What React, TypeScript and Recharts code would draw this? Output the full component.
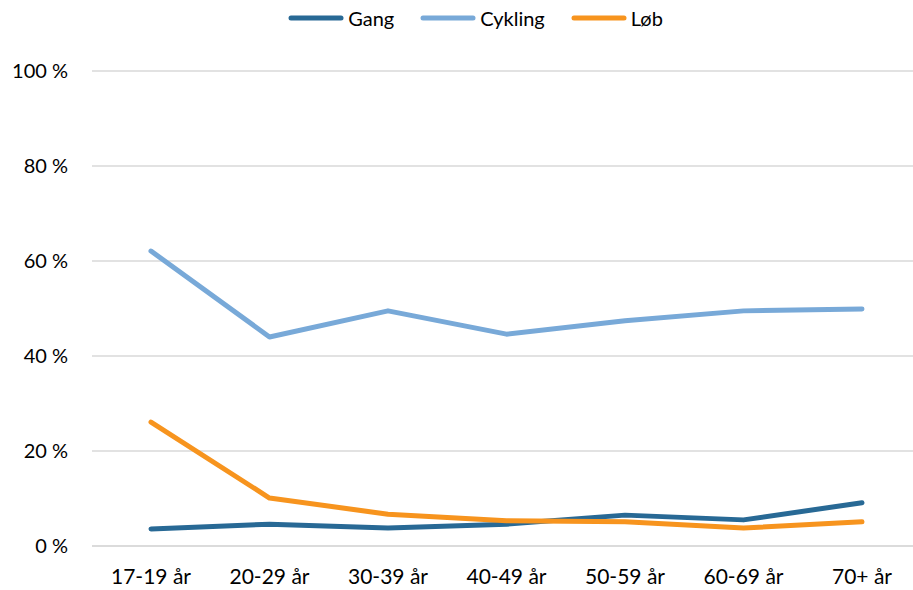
import React from 'react';
import { LineChart, Line, XAxis, YAxis, CartesianGrid, Legend } from 'recharts';

const categories = ['17-19 år', '20-29 år', '30-39 år', '40-49 år', '50-59 år', '60-69 år', '70+ år'];
const gang = [3.6, 4.6, 3.8, 4.6, 6.5, 5.5, 9.1];
const cykling = [62.1, 44.0, 49.5, 44.6, 47.4, 49.5, 49.9];
const lob = [26.1, 10.1, 6.7, 5.3, 5.1, 3.8, 5.1];
const yTicks = [0, 20, 40, 60, 80, 100];

const seriesInfo = [
  { key: 'Gang', color: '#286995' },
  { key: 'Cykling', color: '#78a9d8' },
  { key: 'Løb', color: '#f7941e' },
];

const data = categories.map((c, i) => ({ name: c, Gang: gang[i], Cykling: cykling[i], 'Løb': lob[i] }));

const FONT = 'Lato, "Open Sans", sans-serif';

const LegendContent = () => (
  <div style={{ height: 36, display: 'flex', justifyContent: 'center', alignItems: 'center', fontFamily: FONT, fontSize: 20, color: '#000', paddingLeft: 38, boxSizing: 'border-box' }}>
    {seriesInfo.map((s, i) => (
      <div key={s.key} style={{ display: 'flex', alignItems: 'center', marginLeft: i === 0 ? 0 : 26 }}>
        <svg width={56} height={8} style={{ marginRight: 4 }}>
          <line x1={3} y1={4} x2={53} y2={4} stroke={s.color} strokeWidth={5} strokeLinecap="round" />
        </svg>
        <span>{s.key}</span>
      </div>
    ))}
  </div>
);

export default function App() {
  return (
    <div style={{ position: 'absolute', left: 0, top: 0, width: 913, height: 590, overflow: 'hidden', background: '#fff' }}>
      <LineChart width={925} height={590} data={data} margin={{ top: 35, right: 4, bottom: 0, left: 0 }}>
        <CartesianGrid vertical={false} stroke="#d9d9d9" strokeWidth={1.5} />
        <XAxis
          dataKey="name"
          height={44}
          padding={{ left: 59, right: 59 }}
          tickLine={false}
          axisLine={{ stroke: '#d9d9d9', strokeWidth: 1.5 }}
          tickSize={0}
          tickMargin={23}
          tick={{ fill: '#000', fontSize: 21, fontFamily: FONT }}
          interval={0}
        />
        <YAxis
          width={92}
          domain={[0, 100]}
          ticks={yTicks}
          axisLine={false}
          tickLine={false}
          tickSize={0}
          tickMargin={24}
          tickFormatter={(v) => `${v} %`}
          tick={{ fill: '#000', fontSize: 20, fontFamily: FONT }}
        />
        <Legend verticalAlign="top" align="center" content={LegendContent} wrapperStyle={{ top: 0, left: 0, width: 913 }} />
        {seriesInfo.map((s) => (
          <Line
            key={s.key}
            type="linear"
            dataKey={s.key}
            stroke={s.color}
            strokeWidth={5}
            strokeLinecap="round"
            strokeLinejoin="round"
            dot={false}
            activeDot={false}
            isAnimationActive={false}
          />
        ))}
      </LineChart>
    </div>
  );
}
